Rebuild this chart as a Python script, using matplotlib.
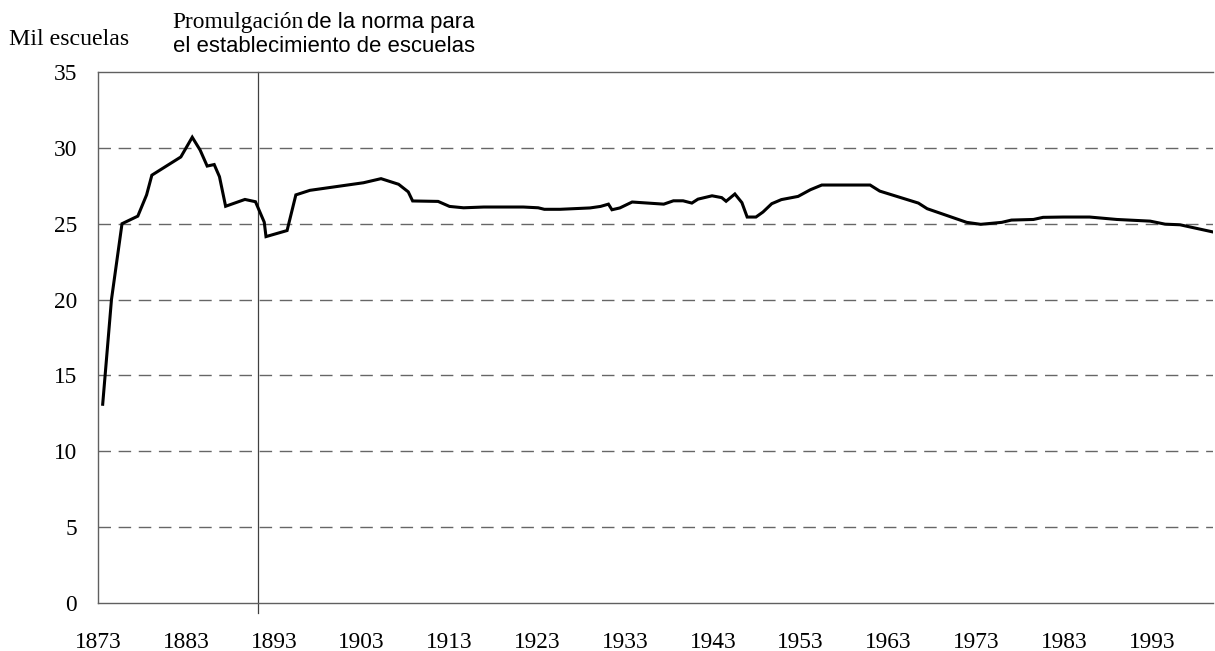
import matplotlib
matplotlib.use("Agg")
import matplotlib.pyplot as plt

# ---- data ----
years = [1873.5, 1874.5, 1875.7, 1877.5, 1878.5, 1879.1, 1882.4, 1883.7, 1884.6, 1885.4,
         1886.2, 1886.8, 1887.5, 1889.7, 1890.9, 1891.9, 1892.1, 1894.5, 1895.5, 1897.1,
         1903.2, 1905.2, 1907.2, 1908.3, 1908.8, 1911.7, 1913.0, 1914.6, 1916.9, 1921.4,
         1923.1, 1923.8, 1925.6, 1929.0, 1930.2, 1931.1, 1931.5, 1932.4, 1933.8, 1937.4,
         1938.5, 1939.6, 1940.6, 1941.3, 1942.9, 1944.0, 1944.5, 1945.5, 1946.3, 1946.9,
         1947.9, 1948.7, 1949.7, 1950.8, 1952.7, 1954.1, 1955.4, 1960.9, 1962.0, 1966.4,
         1967.4, 1971.9, 1973.5, 1975.9, 1977.0, 1979.5, 1980.6, 1982.9, 1985.9, 1989.0,
         1992.8, 1994.5, 1996.2, 2000.0]
schools = [13.1, 20.0, 25.0, 25.5, 26.9, 28.2, 29.4, 30.7, 29.85, 28.8,
           28.9, 28.1, 26.15, 26.6, 26.45, 25.1, 24.15, 24.55, 26.9, 27.2,
           27.7, 27.97, 27.6, 27.1, 26.5, 26.47, 26.14, 26.05, 26.1, 26.1,
           26.05, 25.95, 25.95, 26.04, 26.14, 26.29, 25.92, 26.04, 26.43, 26.29,
           26.51, 26.51, 26.36, 26.62, 26.84, 26.72, 26.48, 26.96, 26.39, 25.44,
           25.44, 25.77, 26.32, 26.59, 26.8, 27.24, 27.55, 27.55, 27.15, 26.36,
           25.99, 25.09, 24.96, 25.09, 25.24, 25.28, 25.42, 25.44, 25.44, 25.28,
           25.17, 24.97, 24.93, 24.45]
xtick_years = [1873, 1883, 1893, 1903, 1913, 1923, 1933, 1943, 1953, 1963, 1973, 1983, 1993]
ytick_values = [0, 5, 10, 15, 20, 25, 30, 35]
norm_year = 1891.2
y_label = "Mil escuelas"
note_serif = "Promulgación"
note_sans_1 = "de la norma para"
note_sans_2 = "el establecimiento de escuelas"

W, H = 1215, 651
fig = plt.figure(figsize=(W / 100, H / 100), dpi=100)
left, right, top, bottom = 98.3, 1213.4, 72, 603
ax = fig.add_axes([left / W, 1 - bottom / H, (right - left) / W, (bottom - top) / H])

serif = "Liberation Serif"
sans = "Liberation Sans"

ax.plot(years, schools, color="black", lw=2.2, solid_joinstyle="miter", zorder=3)

ax.set_xlim(1873, 2000)
ax.set_ylim(0, 35)

for v in ytick_values[1:-1]:
    ax.axhline(v, color="#666666", lw=1.0, dashes=(9.0, 5.5), zorder=1)

ax.axvline(norm_year, ymin=-10 / (bottom - top), ymax=1, color="#404040", lw=0.9,
           clip_on=False, zorder=2)

for s in ["left", "bottom", "top"]:
    ax.spines[s].set_color("#606060")
    ax.spines[s].set_linewidth(1.0)
ax.spines["right"].set_visible(False)

ax.set_xticks(xtick_years)
ax.set_xticklabels([str(y) for y in xtick_years])
ax.set_yticks(ytick_values)
ax.set_yticklabels([str(v) for v in ytick_values])
ax.tick_params(axis="both", length=0)
ax.tick_params(axis="y", pad=15.5)
ax.tick_params(axis="x", pad=21.0)
for lab in ax.get_xticklabels() + ax.get_yticklabels():
    lab.set_fontfamily(serif)
    lab.set_fontsize(16.8)
    lab.set_color("black")

def fx(px):
    return px / W

def fy(py):
    return 1 - py / H

fig.text(fx(9), fy(45), y_label, family=serif, fontsize=17.2, va="baseline", ha="left")
t1 = fig.text(fx(172.3), fy(28.3), note_serif, family=serif, fontsize=16.8,
              va="baseline", ha="left")
fig.canvas.draw()
ext = t1.get_window_extent(renderer=fig.canvas.get_renderer())
fig.text((ext.x1 + 3) / W, fy(28.3), note_sans_1, family=sans, fontsize=15.9,
         va="baseline", ha="left")
fig.text(fx(173.3), fy(51.7), note_sans_2, family=sans, fontsize=15.9, va="baseline", ha="left")

fig.savefig("out.png", dpi=100)
